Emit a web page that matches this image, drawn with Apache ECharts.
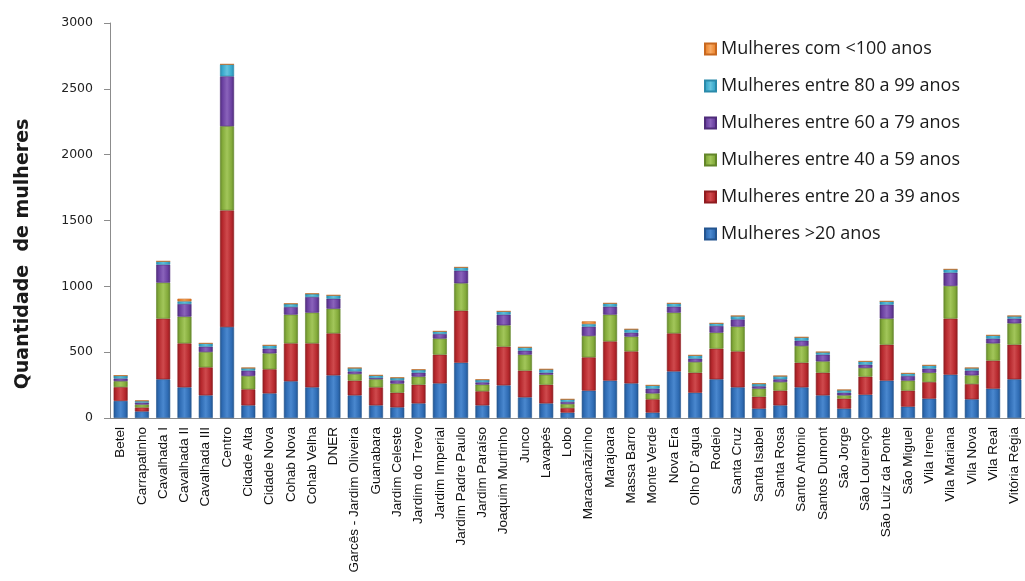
<!DOCTYPE html>
<html>
<head>
<meta charset="utf-8">
<title>Quantidade de mulheres por bairro</title>
<script src="https://cdn.jsdelivr.net/npm/echarts@6/dist/echarts.min.js"></script>
<style>
  html, body { margin: 0; padding: 0; background: #ffffff; }
  #chart { width: 1025px; height: 581px; }
</style>
</head>
<body>
<div id="chart"></div>
<script>
// Bairros (eixo das categorias)
const bairros = [
  'Betel', 'Carrapatinho', 'Cavalhada I', 'Cavalhada II', 'Cavalhada III', 'Centro',
  'Cidade Alta', 'Cidade Nova', 'Cohab Nova', 'Cohab Velha', 'DNER',
  'Garcês - Jardim Oliveira', 'Guanabara', 'Jardim Celeste', 'Jardim do Trevo',
  'Jardim Imperial', 'Jardim Padre Paulo', 'Jardim Paraíso', 'Joaquim Murtinho',
  'Junco', 'Lavapés', 'Lobo', 'Maracanãzinho', 'Marajoara', 'Massa Barro',
  'Monte Verde', 'Nova Era', "Olho D' agua", 'Rodeio', 'Santa Cruz', 'Santa Isabel',
  'Santa Rosa', 'Santo Antonio', 'Santos Dumont', 'São Jorge', 'São Lourenço',
  'São Luiz da Ponte', 'São Miguel', 'Vila Irene', 'Vila Mariana', 'Vila Nova',
  'Vila Real', 'Vitória Régia'
];

// Faixas etárias (nomes das séries)
const faixas = [
  'Mulheres >20 anos',
  'Mulheres entre 20 a 39 anos',
  'Mulheres entre 40 a 59 anos',
  'Mulheres entre 60 a 79 anos',
  'Mulheres entre 80 a 99 anos',
  'Mulheres com <100 anos'
];

// Quantidade de mulheres por faixa, na ordem dos bairros
const ate20 = [130, 50, 294, 233, 172, 691, 96, 187, 279, 233, 324, 172, 96, 81, 111, 263, 420, 96, 248, 157, 111, 41, 208, 284, 263, 41, 354, 192, 294, 233, 71, 96, 233, 172, 71, 177, 284, 86, 147, 329, 142, 223, 294];
const de20a39 = [105, 30, 461, 334, 213, 886, 122, 183, 288, 334, 319, 112, 137, 111, 142, 218, 395, 107, 294, 203, 142, 35, 253, 298, 243, 101, 289, 152, 233, 273, 91, 112, 187, 172, 76, 137, 273, 122, 126, 426, 116, 213, 263];
const de40a59 = [45, 22, 273, 203, 116, 639, 101, 121, 218, 233, 187, 50, 61, 69, 61, 122, 208, 50, 162, 121, 76, 30, 162, 203, 112, 45, 157, 81, 121, 188, 61, 65, 127, 86, 25, 66, 198, 76, 71, 248, 66, 131, 162];
const de60a79 = [20, 15, 137, 96, 41, 379, 41, 36, 58, 119, 76, 20, 10, 25, 30, 35, 96, 18, 81, 30, 15, 16, 71, 61, 30, 36, 46, 26, 51, 55, 18, 21, 40, 51, 20, 25, 106, 35, 31, 101, 36, 36, 36];
const de80a99 = [22, 13, 25, 20, 25, 91, 20, 25, 25, 25, 26, 26, 20, 20, 23, 20, 25, 20, 25, 26, 26, 20, 20, 25, 26, 25, 25, 25, 20, 26, 20, 25, 26, 20, 21, 25, 25, 20, 25, 25, 20, 25, 20];
const acima100 = [0, 2, 0, 20, 0, 0, 0, 0, 0, 0, 0, 0, 0, 0, 0, 0, 0, 0, 0, 0, 0, 0, 20, 0, 0, 0, 0, 0, 0, 0, 0, 0, 0, 0, 0, 0, 0, 0, 0, 0, 0, 0, 0];

// Marcas do eixo vertical
const yTicks = [0, 500, 1000, 1500, 2000, 2500, 3000];

const valores = [ate20, de20a39, de40a59, de60a79, de80a99, acima100];

// Tons de cada faixa: borda, corpo e reflexo central (efeito de relevo)
const tons = [
  ['#24558f', '#2f6cb4', '#4a88cf'],
  ['#8f1c20', '#b6282d', '#cf4a4d'],
  ['#63862a', '#84ab3b', '#a2c65a'],
  ['#4f2c7a', '#6a40a0', '#8a63bb'],
  ['#2a8aaa', '#3aa9cc', '#66c4de'],
  ['#c8681f', '#ee8a35', '#f7ab66']
];

function relevo(t) {
  return new echarts.graphic.LinearGradient(0, 0, 1, 0, [
    { offset: 0, color: t[0] },
    { offset: 0.18, color: t[1] },
    { offset: 0.5, color: t[2] },
    { offset: 0.82, color: t[1] },
    { offset: 1, color: t[0] }
  ]);
}

const series = faixas.map((nome, i) => ({
  name: nome,
  type: 'bar',
  stack: 'total',
  barWidth: 14,
  data: valores[i],
  itemStyle: {
    color: relevo(tons[i]),
    borderColor: tons[i][0],
    borderWidth: 0.6
  },
  emphasis: { disabled: true }
}));

const chart = echarts.init(document.getElementById('chart'), null, { renderer: 'canvas' });

chart.setOption({
  animation: false,
  backgroundColor: '#ffffff',
  grid: { left: 110, top: 23, width: 918, height: 395, containLabel: false },
  legend: {
    orient: 'vertical',
    left: 699,
    top: 34,
    itemWidth: 11,
    itemHeight: 11,
    itemGap: 17,
    icon: 'rect',
    data: faixas.slice().reverse(),
    textStyle: {
      fontFamily: 'Open Sans',
      fontSize: 18,
      lineHeight: 20,
      color: '#1a1a1a'
    }
  },
  xAxis: {
    type: 'category',
    data: bairros,
    boundaryGap: true,
    axisLine: { lineStyle: { color: '#8c8c8c', width: 1 } },
    axisTick: { show: false },
    axisLabel: {
      interval: 0,
      rotate: 90,
      margin: 9,
      fontFamily: 'Liberation Sans',
      fontSize: 13.5,
      color: '#111111'
    }
  },
  yAxis: {
    type: 'value',
    min: yTicks[0],
    max: yTicks[yTicks.length - 1],
    interval: yTicks[1] - yTicks[0],
    splitLine: { show: false },
    axisLine: { show: true, lineStyle: { color: '#8c8c8c', width: 1 } },
    axisTick: { show: true, length: 6, lineStyle: { color: '#8c8c8c' } },
    axisLabel: {
      margin: 17,
      fontFamily: 'DejaVu Sans',
      fontSize: 12.5,
      color: '#222222',
      formatter: v => String(v)
    }
  },
  graphic: [{
    type: 'text',
    x: 23,
    y: 254,
    rotation: Math.PI / 2,
    style: {
      text: 'Quantidade  de mulheres',
      font: 'bold 19px "DejaVu Sans"',
      fill: '#1a1a1a',
      align: 'center',
      verticalAlign: 'middle'
    }
  }],
  series: series
});
</script>
</body>
</html>
